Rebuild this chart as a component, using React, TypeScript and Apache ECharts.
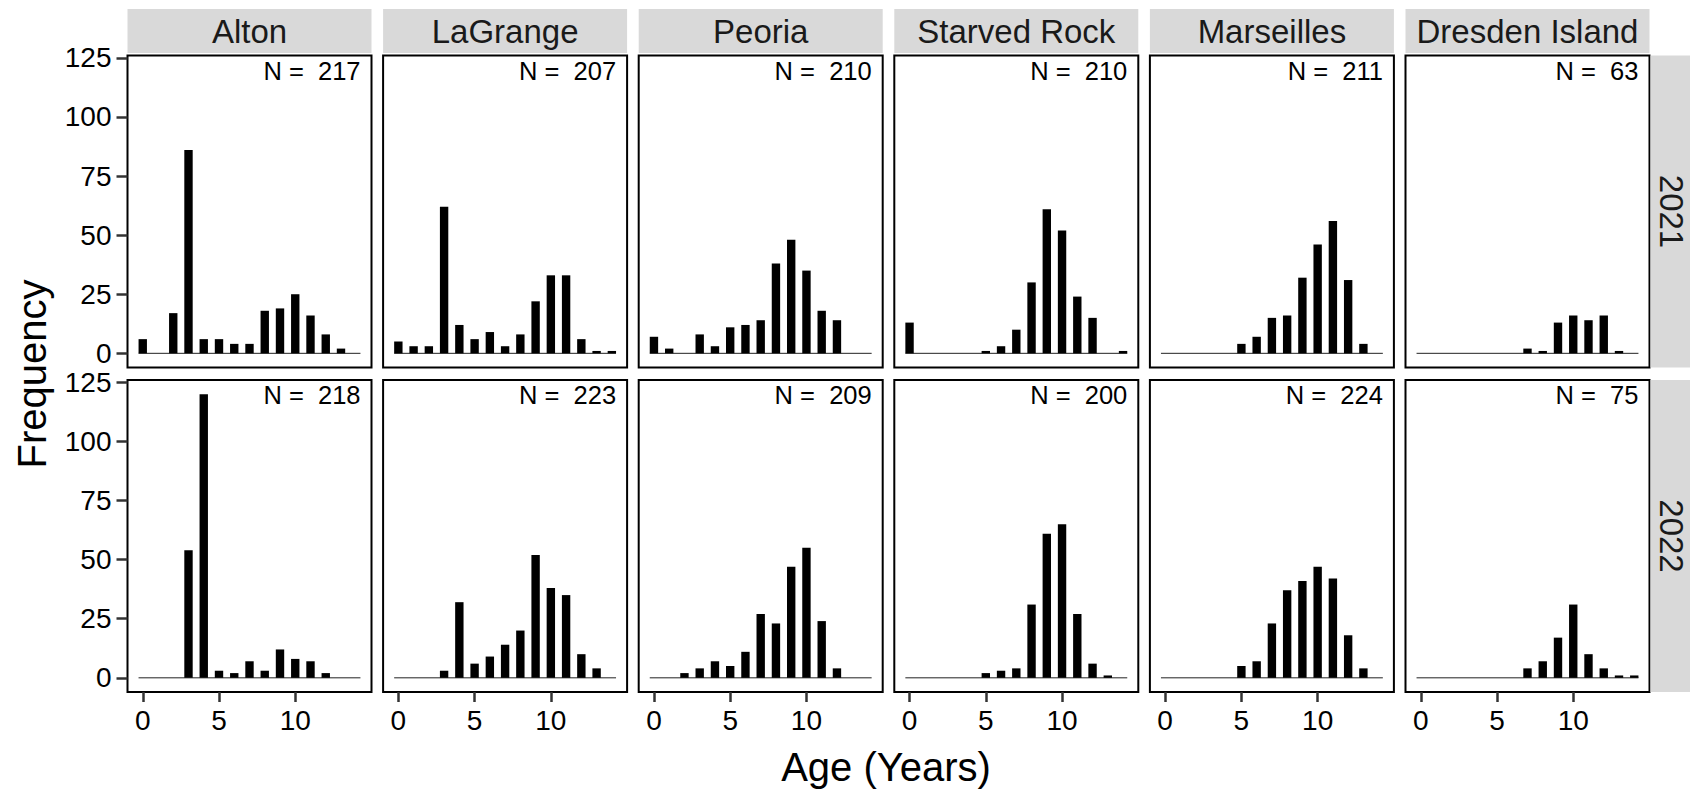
import React, { useEffect, useRef } from "react";
import * as echarts from "echarts";

// ---------- data ----------
const ages = [0, 1, 2, 3, 4, 5, 6, 7, 8, 9, 10, 11, 12, 13, 14];
const sites = ["Alton", "LaGrange", "Peoria", "Starved Rock", "Marseilles", "Dresden Island"];
const years = ["2021", "2022"];

const alton2021 = [6, 0, 17, 86, 6, 6, 4, 4, 18, 19, 25, 16, 8, 2, 0];
const lagrange2021 = [5, 3, 3, 62, 12, 6, 9, 3, 8, 22, 33, 33, 6, 1, 1];
const peoria2021 = [7, 2, 0, 8, 3, 11, 12, 14, 38, 48, 35, 18, 14, 0, 0];
const starved2021 = [13, 0, 0, 0, 0, 1, 3, 10, 30, 61, 52, 24, 15, 0, 1];
const marseilles2021 = [0, 0, 0, 0, 0, 4, 7, 15, 16, 32, 46, 56, 31, 4, 0];
const dresden2021 = [0, 0, 0, 0, 0, 0, 0, 2, 1, 13, 16, 14, 16, 1, 0];

const alton2022 = [0, 0, 0, 54, 120, 3, 2, 7, 3, 12, 8, 7, 2, 0, 0];
const lagrange2022 = [0, 0, 0, 3, 32, 6, 9, 14, 20, 52, 38, 35, 10, 4, 0];
const peoria2022 = [0, 0, 2, 4, 7, 5, 11, 27, 23, 47, 55, 24, 4, 0, 0];
const starved2022 = [0, 0, 0, 0, 0, 2, 3, 4, 31, 61, 65, 27, 6, 1, 0];
const marseilles2022 = [0, 0, 0, 0, 0, 5, 7, 23, 37, 41, 47, 42, 18, 4, 0];
const dresden2022 = [0, 0, 0, 0, 0, 0, 0, 4, 7, 17, 31, 10, 4, 1, 1];

const rows2021 = [alton2021, lagrange2021, peoria2021, starved2021, marseilles2021, dresden2021];
const rows2022 = [alton2022, lagrange2022, peoria2022, starved2022, marseilles2022, dresden2022];
const panelCounts = [rows2021, rows2022];

const xTicks = [0, 5, 10];
const yTicks = [0, 25, 50, 75, 100, 125];

const xTitle = "Age (Years)";
const yTitle = "Frequency";

// ---------- layout ----------
const FONT = "'Liberation Sans', Arial, Helvetica, sans-serif";
const COL_LEFT0 = 127.5;
const COL_STEP = 255.6;
const PANEL_W = 244;
const ROW_TOPS = [55.5, 380];
const PANEL_H = 312;
const X_MIN = -1;
const X_MAX = 15;
const Y_MIN = -6;
const Y_MAX = 126;
const BAR_UNITS = 0.55;
const STRIP_TOP = 9;
const STRIP_H = 44;
const STRIP_FILL = "#D9D9D9";
const STRIP_TEXT = "#1A1A1A";
const TICK_FONT = 28;
const STRIP_FONT = 33;

export default function App() {
  const ref = useRef<HTMLDivElement>(null);

  useEffect(() => {
    if (!ref.current) return;
    const chart = echarts.init(ref.current, undefined, { renderer: "svg" });

    const grids: any[] = [];
    const xAxes: any[] = [];
    const yAxes: any[] = [];
    const series: any[] = [];
    const graphics: any[] = [];
    const barPx = (BAR_UNITS * PANEL_W) / (X_MAX - X_MIN);

    years.forEach((year, r) => {
      sites.forEach((site, c) => {
        const idx = r * sites.length + c;
        const left = COL_LEFT0 + c * COL_STEP;
        const top = ROW_TOPS[r];
        const counts = panelCounts[r][c];
        const isBottom = r === years.length - 1;
        const isLeft = c === 0;

        grids.push({
          left,
          top,
          width: PANEL_W,
          height: PANEL_H,
          show: true,
          backgroundColor: "#fff",
          borderColor: "#000",
          borderWidth: 2,
          containLabel: false,
        });
        xAxes.push({
          type: "value",
          gridIndex: idx,
          position: "bottom",
          min: X_MIN,
          max: X_MAX,
          axisLine: { show: false, onZero: false },
          splitLine: { show: false },
          axisTick: {
            show: isBottom,
            inside: false,
            customValues: xTicks,
            length: 10,
            lineStyle: { color: "#333", width: 2.5 },
          },
          axisLabel: {
            show: isBottom,
            customValues: xTicks,
            fontSize: TICK_FONT,
            fontFamily: FONT,
            color: "#000",
            margin: 14,
          },
        });
        yAxes.push({
          type: "value",
          gridIndex: idx,
          position: "left",
          min: Y_MIN,
          max: Y_MAX,
          axisLine: { show: false, onZero: false },
          splitLine: { show: false },
          axisTick: {
            show: isLeft,
            inside: false,
            customValues: yTicks,
            length: 11,
            lineStyle: { color: "#333", width: 2.5 },
          },
          axisLabel: {
            show: isLeft,
            customValues: yTicks,
            fontSize: TICK_FONT,
            fontFamily: FONT,
            color: "#000",
            margin: 16,
          },
        });
        series.push({
          type: "line",
          xAxisIndex: idx,
          yAxisIndex: idx,
          data: [
            [ages[0] - BAR_UNITS / 2, 0],
            [ages[ages.length - 1] + BAR_UNITS / 2, 0],
          ],
          symbol: "none",
          silent: true,
          lineStyle: { color: "#222", width: 1 },
          z: 1,
        });
        series.push({
          type: "bar",
          xAxisIndex: idx,
          yAxisIndex: idx,
          data: ages.map((a, k) => [a, counts[k]]).filter((d) => d[1] > 0),
          barWidth: barPx,
          itemStyle: { color: "#000" },
          silent: true,
          z: 2,
        });

        const n = counts.reduce((s, v) => s + v, 0);
        graphics.push({
          type: "text",
          x: left + PANEL_W - 11,
          y: top + 15,
          style: {
            text: "N =  " + n,
            fontSize: 25.5,
            fontFamily: FONT,
            fill: "#000",
            align: "right",
            verticalAlign: "middle",
          },
        });

        if (r === 0) {
          graphics.push({
            type: "rect",
            shape: { x: left, y: STRIP_TOP, width: PANEL_W, height: STRIP_H },
            style: { fill: STRIP_FILL },
          });
          graphics.push({
            type: "text",
            x: left + PANEL_W / 2,
            y: STRIP_TOP + STRIP_H / 2,
            style: {
              text: site,
              fontSize: STRIP_FONT,
              fontFamily: FONT,
              fill: STRIP_TEXT,
              align: "center",
              verticalAlign: "middle",
            },
          });
        }
        if (c === sites.length - 1) {
          const sx = left + PANEL_W + 1;
          graphics.push({
            type: "rect",
            shape: { x: sx, y: top, width: STRIP_H, height: PANEL_H },
            style: { fill: STRIP_FILL },
          });
          graphics.push({
            type: "text",
            x: sx + 21,
            y: top + PANEL_H / 2,
            rotation: -Math.PI / 2,
            style: {
              text: year,
              fontSize: STRIP_FONT,
              fontFamily: FONT,
              fill: STRIP_TEXT,
              align: "center",
              verticalAlign: "middle",
            },
          });
        }
      });
    });

    graphics.push({
      type: "text",
      x: 32,
      y: 374,
      rotation: Math.PI / 2,
      style: {
        text: yTitle,
        fontSize: 40,
        fontFamily: FONT,
        fill: "#000",
        align: "center",
        verticalAlign: "middle",
      },
    });
    graphics.push({
      type: "text",
      x: 886,
      y: 767,
      style: {
        text: xTitle,
        fontSize: 40,
        fontFamily: FONT,
        fill: "#000",
        align: "center",
        verticalAlign: "middle",
      },
    });

    chart.setOption({
      animation: false,
      backgroundColor: "#fff",
      grid: grids,
      xAxis: xAxes,
      yAxis: yAxes,
      series,
      graphic: graphics,
    });

    return () => chart.dispose();
  }, []);

  return (
    <div
      ref={ref}
      style={{ position: "fixed", left: 0, top: 0, width: "1690px", height: "791px" }}
    />
  );
}
